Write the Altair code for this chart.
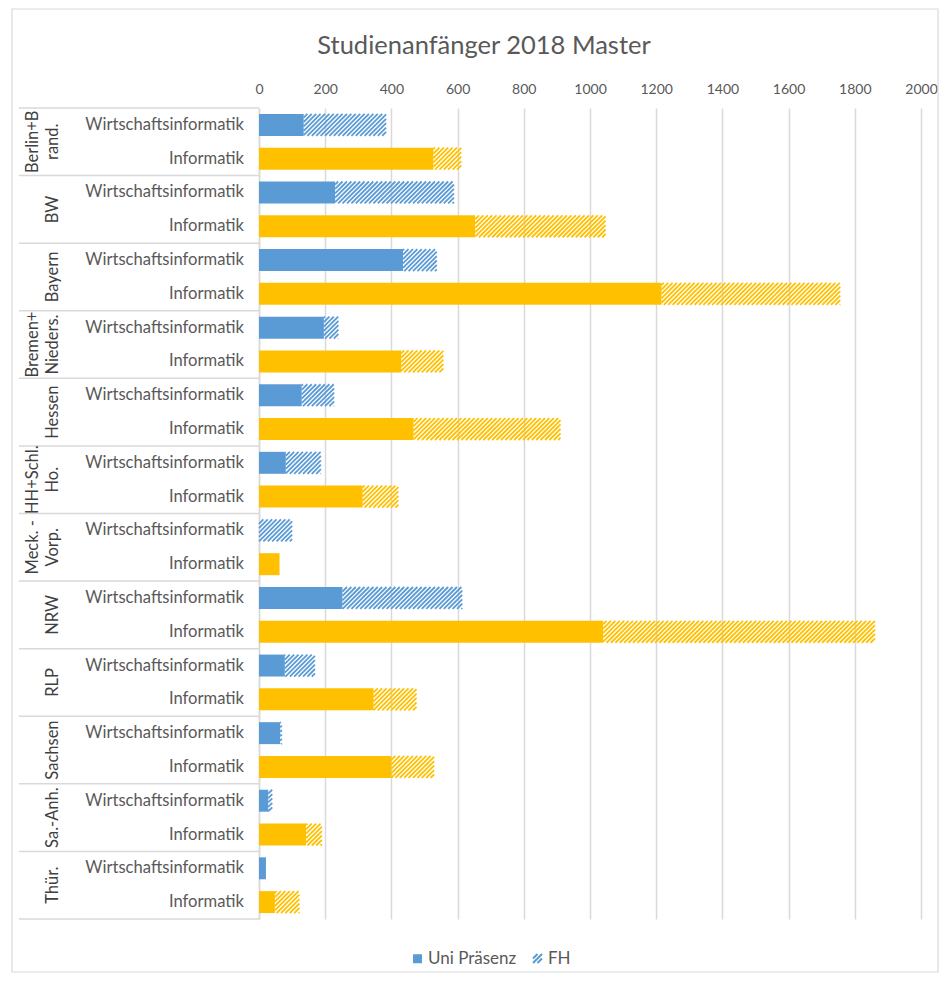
import altair as alt
import pandas as pd
import math

# ---- data ----
regions = ["Berlin+B\nrand.", "BW", "Bayern", "Bremen+\nNieders.", "Hessen",
           "HH+Schl.\nHo.", "Meck. -\nVorp.", "NRW", "RLP", "Sachsen",
           "Sa.-Anh.", "Thür."]
subjects = ["Wirtschaftsinformatik", "Informatik"]
series = ["Uni Präsenz", "FH"]

uni_wi = [135, 230, 435, 196, 129, 81, 0, 252, 78, 64, 28, 21]
fh_wi = [249, 359, 102, 44, 98, 106, 100, 362, 91, 5, 12, 0]
uni_inf = [527, 653, 1216, 430, 467, 313, 62, 1040, 346, 400, 142, 48]
fh_inf = [84, 394, 540, 127, 444, 108, 0, 821, 130, 129, 48, 74]

x_ticks = list(range(0, 2001, 200))

# ---- layout / style ----
W, H = 662, 811
BLUE, GOLD = "#5b9bd5", "#ffc000"
TXT = "#595959"
FONT = "Lato"
HALF = 0.325  # half bar thickness in row units

rows = []
for g, reg in enumerate(regions):
    for s, sub in enumerate(subjects):
        u = (uni_wi if s == 0 else uni_inf)[g]
        f = (fh_wi if s == 0 else fh_inf)[g]
        idx = 2 * g + s
        rows.append(dict(idx=idx, region=reg, subject=sub, x0=0, uni=u, fh=f,
                         total=u + f, y0=idx - HALF, y1=idx + HALF))
df = pd.DataFrame(rows)

# hatch lines for the FH segments ("/" pattern), derived from the data
px_per_unit = W / 2000
row_px = H / 24
h_units = (2 * HALF * row_px) / px_per_unit
d_units = 4.4 / px_per_unit
hatch = []
for r in rows:
    a, b = r["uni"], r["total"]
    if b - a <= 0:
        continue
    k0 = math.floor((a - h_units) / d_units)
    k1 = math.ceil(b / d_units)
    for k in range(k0, k1 + 1):
        s0 = k * d_units
        t0 = max(0.0, a - s0)
        t1 = min(h_units, b - s0)
        if t1 - t0 <= 0.5:
            continue
        hatch.append(dict(subject=r["subject"],
                          hx1=s0 + t0, hx2=s0 + t1,
                          hy1=r["idx"] + HALF - (t0 / h_units) * 2 * HALF,
                          hy2=r["idx"] + HALF - (t1 / h_units) * 2 * HALF))
hdf = pd.DataFrame(hatch)

gdf = pd.DataFrame(dict(region=regions, gy=[2 * g + 0.5 for g in range(len(regions))],
                        multi=["\n" in r for r in regions]))
sep_df = pd.DataFrame(dict(b=[2 * g - 0.5 for g in range(len(regions) + 1)]))
leg_df = pd.DataFrame(dict(series=series, lx=[0, 0], ly=[0, 0]))

color = alt.Color("subject:N", scale=alt.Scale(domain=subjects, range=[BLUE, GOLD]), legend=None)
hcolor = alt.Color("subject:N", scale=alt.Scale(domain=subjects, range=["#4080c4", "#fbbf10"]),
                   legend=None)
yscale = alt.Scale(domain=[-0.5, 23.5], reverse=True, nice=False, zero=False)
xscale = alt.Scale(domain=[0, 2000], nice=False)

bars = alt.Chart(df).mark_rect().encode(
    x=alt.X("x0:Q", scale=xscale,
            axis=alt.Axis(orient="top", values=x_ticks, title=None, grid=True, format="d",
                          gridColor="#d9d9d9", gridWidth=1.5, ticks=False, domain=False,
                          labelFlush=False, labelOverlap=False,
                          labelFont=FONT, labelFontSize=14, labelColor=TXT, labelPadding=12)),
    x2="uni:Q",
    y=alt.Y("y0:Q", scale=yscale,
            axis=alt.Axis(labels=False, title=None, grid=False, ticks=False,
                          domain=True, domainColor="#d9d9d9", domainWidth=1.5)),
    y2="y1:Q",
    color=color,
)

sub_labels = alt.Chart(df).mark_text(
    align="right", baseline="middle", font=FONT, fontSize=16.6, color=TXT).encode(
    x=alt.value(-15), y=alt.Y("idx:Q", scale=yscale), text="subject:N")

hatch_layer = alt.Chart(hdf).mark_rule(strokeWidth=1.8).encode(
    x=alt.X("hx1:Q", scale=xscale), x2="hx2:Q",
    y=alt.Y("hy1:Q", scale=yscale), y2="hy2:Q",
    color=hcolor,
)

seps = alt.Chart(sep_df).mark_rule(color="#d9d9d9", strokeWidth=1.5).encode(
    x=alt.value(-240), x2=alt.value(0), y=alt.Y("b:Q", scale=yscale),
)

glabel_single = alt.Chart(gdf).transform_filter("!datum.multi").mark_text(
    angle=270, align="center", baseline="middle", font=FONT, fontSize=16.5,
    color="#404040").encode(
    x=alt.value(-206), y=alt.Y("gy:Q", scale=yscale), text="region:N")

glabel_multi = alt.Chart(gdf).transform_filter("datum.multi").mark_text(
    angle=270, align="center", baseline="middle", font=FONT, fontSize=16.5,
    color="#404040", lineBreak="\n", lineHeight=20).encode(
    x=alt.value(-226), y=alt.Y("gy:Q", scale=yscale), text="region:N")

title = alt.Chart(pd.DataFrame(dict(t=["Studienanfänger 2018 Master"]))).mark_text(
    align="center", baseline="middle", font=FONT, fontSize=25.5, color=TXT).encode(
    x=alt.value(225), y=alt.value(-62), text="t:N")

frame = alt.Chart(pd.DataFrame(dict(f=[1]))).mark_rect(
    fill=None, stroke="#d9d9d9", strokeWidth=1.2).encode(
    x=alt.value(-247), x2=alt.value(679), y=alt.value(-99), y2=alt.value(864))

SQUARE = "M-1,-0.8H1M-1,-0.4H1M-1,0H1M-1,0.4H1M-1,0.8H1"
HATCH = "M-1,0L0,-1M-1,1L1,-1M0,1L1,0"
legend_pts = alt.Chart(leg_df).mark_point(filled=False, color=BLUE, strokeWidth=2,
                                          opacity=0, size=0).encode(
    x=alt.X("lx:Q", scale=xscale), y=alt.Y("ly:Q", scale=yscale),
    shape=alt.Shape("series:N",
                    scale=alt.Scale(domain=series, range=[SQUARE, HATCH]),
                    legend=alt.Legend(title=None, orient="none", direction="horizontal",
                                      legendX=150, legendY=842,
                                      symbolSize=80, symbolStrokeColor=BLUE,
                                      symbolStrokeWidth=2, symbolOpacity=1,
                                      labelFont=FONT, labelFontSize=17,
                                      labelColor=TXT, columnPadding=12, labelOffset=2)),
)

chart = alt.layer(frame, seps, bars, hatch_layer, sub_labels, glabel_single, glabel_multi,
                  title, legend_pts).properties(
    width=W, height=H,
    padding={"left": 3, "top": 0, "right": 0, "bottom": 0},
).configure_view(stroke=None)

chart.save("out.html", embed_options={"renderer": "svg", "actions": False})
